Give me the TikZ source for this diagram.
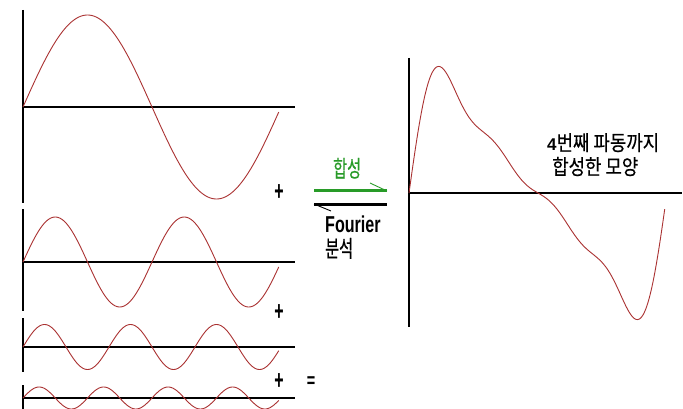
\documentclass[tikz,border=0pt]{standalone}
\usepackage{fontspec}
\usepackage{graphicx}
\newfontfamily\krleft[FakeStretch=0.66,FakeBold=0.4]{Noto Sans CJK KR}
\newfontfamily\krright[FakeStretch=0.85,FakeBold=0.4]{Noto Sans CJK KR}
\newfontfamily\latnarrow[FakeStretch=0.7]{Liberation Sans}
\newfontfamily\latplain{Liberation Sans}
\definecolor{wavered}{RGB}{170,50,50}
\definecolor{mygreen}{RGB}{40,155,40}
\tikzset{
  wave/.style={wavered, line width=0.9pt},
  haxis/.style={black, line width=1.6pt},
  vaxis/.style={black, line width=1.3pt},
  lbl/.style={inner sep=0pt, anchor=base west},
  sym/.style={inner sep=0pt, font=\latplain\bfseries\fontsize{16}{16}\selectfont},
}
\begin{document}
\begin{tikzpicture}[x=1pt,y=-1pt]
\useasboundingbox[fill=white] (0,0) rectangle (683,409);
% ---- left component waves ----
% wave 1
\draw[vaxis] (23,10) -- (23,203);
\draw[haxis] (23,107) -- (295,107);
\draw[wave] plot[domain=0:6.23,samples=160,variable=\t] ({23+\t*258/(2*pi)},{107-92*sin(deg(\t))});
% wave 2
\draw[vaxis] (23,209) -- (23,311);
\draw[haxis] (23,262) -- (295,262);
\draw[wave] plot[domain=0:6.23,samples=160,variable=\t] ({23+\t*258/(2*pi)},{262-45*sin(deg(2*\t))});
% wave 3
\draw[vaxis] (23,318) -- (23,372);
\draw[haxis] (23,347) -- (295,347);
\draw[wave] plot[domain=0:6.23,samples=200,variable=\t] ({23+\t*258/(2*pi)},{347-22.5*sin(deg(3*\t))});
% wave 4
\draw[vaxis] (23,385) -- (23,409);
\draw[haxis] (23,398) -- (295,398);
\draw[wave] plot[domain=0:6.23,samples=200,variable=\t] ({23+\t*258/(2*pi)},{398-11*sin(deg(4*\t))});
% plus / equal signs
\node[sym] (p1) at (279,193) {\scalebox{1}[1.7]{+}};
\node[sym] (p2) at (279,313) {\scalebox{1}[1.7]{+}};
\node[sym] (p3) at (279,382) {\scalebox{1}[1.7]{+}};
\node[sym] (eq) at (311,382) {\scalebox{0.9}[1.3]{=}};
% ---- arrows ----
\coordinate (gL) at (314,191);
\coordinate (gR) at (387,191);
\coordinate (gB) at (370,183);
\coordinate (bL) at (314,204);
\coordinate (bR) at (387,204);
\coordinate (bB) at (331,211);
\draw[mygreen, line width=3pt] (gL) -- (gR);
\draw[mygreen, line width=0.9pt] (gR) -- (gB);
\draw[black, line width=3pt] (bL) -- (bR);
\draw[black, line width=0.9pt] (bL) -- (bB);
\node[lbl, text=mygreen, font=\krleft\fontsize{23}{24}\selectfont] (hap) at (333,177) {합성};
\node[lbl, font=\latnarrow\bfseries\fontsize{23}{26}\selectfont] (four) at (325,233) {Fourier};
\node[lbl, font=\krleft\fontsize{23}{24}\selectfont] (bun) at (325,257) {분석};
% ---- right: synthesized wave ----
\draw[vaxis] (409,58) -- (409,327);
\draw[haxis] (409,193) -- (682,193);
\draw[wave] plot[domain=0:6.23,samples=300,variable=\t] ({409+\t*258/(2*pi)},{193-92*(sin(deg(\t))+0.49*sin(deg(2*\t))+0.24*sin(deg(3*\t))+0.12*sin(deg(4*\t)))});
\node[lbl, font=\krright\fontsize{21}{24}\selectfont] (r1) at (547,150.5) {{\latplain\bfseries\fontsize{17}{20}\selectfont 4}번째 파동까지};
\node[lbl, font=\krright\fontsize{21}{24}\selectfont] (r2) at (552,174.5) {합성한 모양};
\end{tikzpicture}
\end{document}
